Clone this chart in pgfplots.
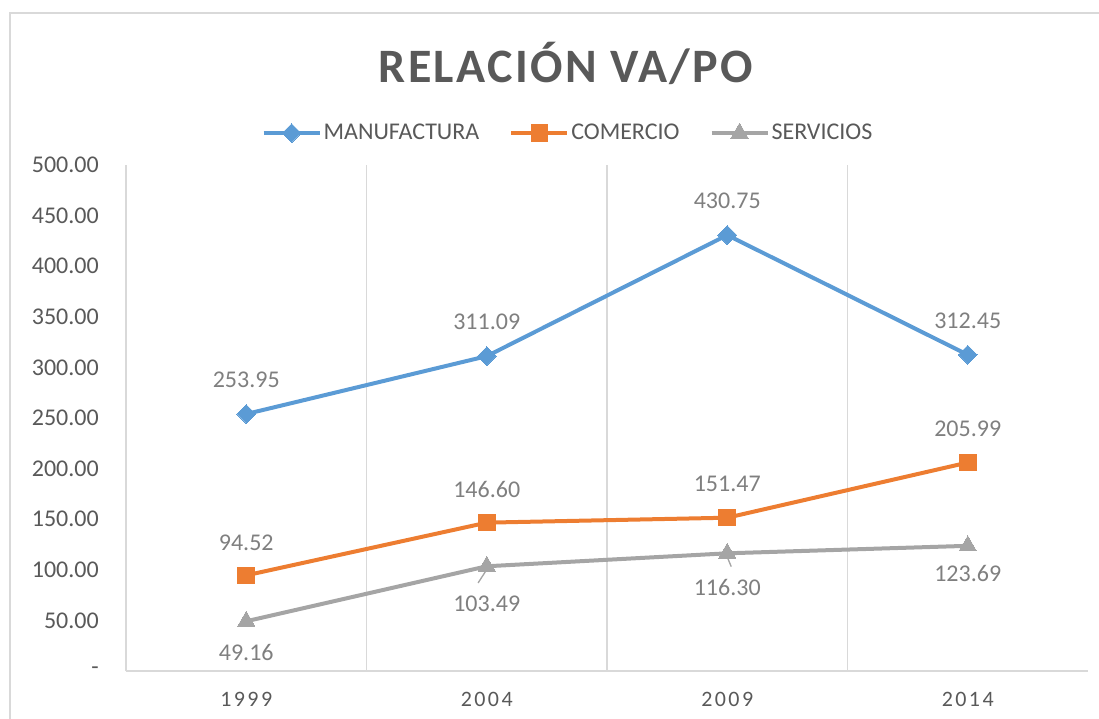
\documentclass[border=0pt]{standalone}
\usepackage{pgfplots}
\pgfplotsset{compat=1.18}
\usepackage{pgfplotstable}
\usepackage{fontspec}
\setmainfont{Carlito}
\definecolor{cblue}{HTML}{5B9BD5}
\definecolor{corange}{HTML}{ED7D31}
\definecolor{cgray}{HTML}{A5A5A5}
\definecolor{textgray}{HTML}{595959}
\definecolor{labelgray}{HTML}{7F7F7F}
\definecolor{gridgray}{HTML}{D9D9D9}

\pgfplotstableread{
x y dy
0 253.95 25.5
1 311.09 25.5
2 430.75 25.5
3 312.45 25.5
}\manuf
\pgfplotstableread{
x y dy
0 94.52 24.5
1 146.60 25
2 151.47 25.5
3 205.99 25.5
}\comer
\pgfplotstableread{
x y dy
0 49.16 -23.25
1 103.49 -28
2 116.30 -25.5
3 123.69 -20.5
}\serv

\pgfplotsset{
  labelplot/.style={forget plot, draw=none, mark=none,
    nodes near coords={\pgfmathprintnumber[fixed,fixed zerofill,precision=2]{\pgfplotspointmeta}},
    visualization depends on={\thisrow{dy} \as \dy},
    every node near coord/.append style={font=\fontsize{18}{20}\selectfont, text=labelgray, anchor=center, yshift=\dy pt}},
}

\begin{document}
\begin{tikzpicture}
\useasboundingbox (0,0) rectangle (824.25pt,538.5pt);
\draw[gridgray, line width=1.2pt] (7.5pt,-2pt) -- (7.5pt,528.75pt) -- (830pt,528.75pt);
\node[font=\fontsize{36}{40}\selectfont\bfseries\addfontfeature{LetterSpace=5}, text=textgray, anchor=base] at (424.5pt,476.25pt) {RELACIÓN VA/PO};
\begin{axis}[
  at={(94.5pt,35.25pt)}, anchor=south west,
  scale only axis, width=721.5pt, height=379.5pt,
  xmin=-0.5, xmax=3.5, ymin=0, ymax=500,
  axis x line*=bottom, axis y line*=left,
  axis line style={draw=gridgray, line width=1.2pt, -},
  xtick={0,1,2,3}, xticklabels={1999,2004,2009,2014},
  minor xtick={0.5,1.5,2.5}, xminorgrids,
  minor grid style={draw=gridgray, line width=1pt},
  major tick length=0pt, minor tick length=0pt,
  ytick={0,50,...,500},
  yticklabels={-\hspace{8pt},50.00,100.00,150.00,200.00,250.00,300.00,350.00,400.00,450.00,500.00},
  yticklabel style={font=\fontsize{18}{20}\selectfont, text=textgray, anchor=east, inner sep=0pt, xshift=-20.25pt},
  xticklabel style={font=\fontsize{16.5}{20}\selectfont\addfontfeature{LetterSpace=11}, text=textgray, anchor=north, inner sep=0pt, yshift=-15.75pt},
  /pgf/number format/assume math mode=true,
  clip=false,
  legend columns=3,
  legend style={draw=none, fill=none, at={(0.4595,1.063)}, anchor=center, inner sep=0pt,
    font=\fontsize{18}{20}\selectfont, text=textgray,
    /tikz/every even column/.append style={column sep=21pt},
    nodes={inner sep=1.5pt}},
  legend image code/.code={\draw[#1, mark repeat=2, mark phase=2] plot coordinates {(0pt,0pt) (21pt,0pt) (42pt,0pt)};},
]
\addplot[cblue, line width=3pt, mark=square*, mark size=5pt, mark options={rotate=45, solid, line width=0pt}] table[x=x,y=y] {\manuf};
\addlegendentry{MANUFACTURA}
\addplot[corange, line width=3pt, mark=square*, mark size=6.2pt, mark options={solid, line width=0pt}] table[x=x,y=y] {\comer};
\addlegendentry{COMERCIO}
\addplot[cgray, line width=3pt, mark=triangle*, mark size=7.5pt, mark options={solid, line width=0pt}] table[x=x,y=y] {\serv};
\addlegendentry{SERVICIOS}
\addplot[labelplot] table[x=x,y=y] {\manuf};
\addplot[labelplot] table[x=x,y=y] {\comer};
\addplot[labelplot] table[x=x,y=y] {\serv};
\draw[cgray, line width=1pt] (axis cs:1,103.49) ++(-6.5pt,-12.5pt) -- ++(5.5pt,8.5pt);
\draw[cgray, line width=1pt] (axis cs:2,116.30) ++(3pt,-10pt) -- ++(-2.5pt,6pt);
\end{axis}
\end{tikzpicture}
\end{document}
